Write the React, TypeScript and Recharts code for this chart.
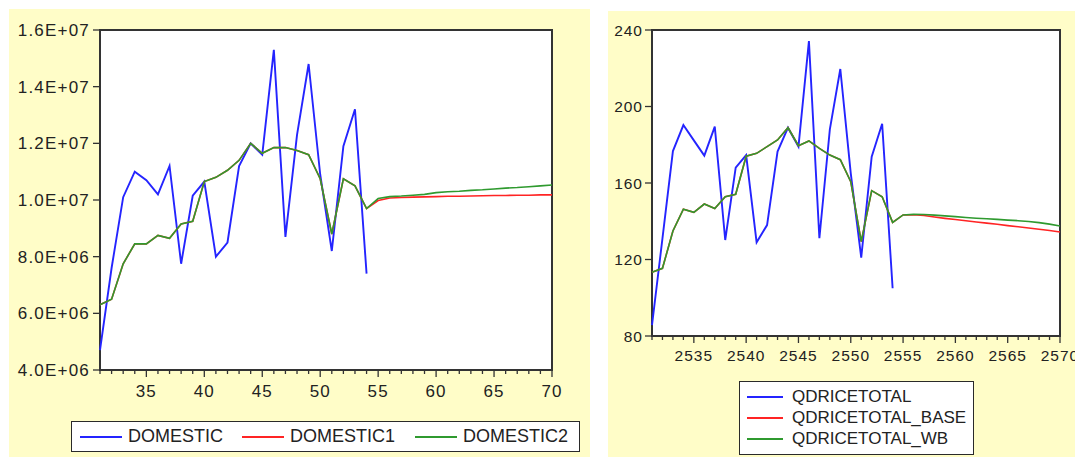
import React from 'react';
import { LineChart, Line, XAxis, YAxis, CartesianGrid, ReferenceArea, Legend } from 'recharts';

// ---------- Left chart data ----------
const leftYears = [31, 32, 33, 34, 35, 36, 37, 38, 39, 40, 41, 42, 43, 44, 45, 46, 47, 48, 49, 50, 51, 52, 53, 54, 55, 56, 57, 58, 59, 60, 61, 62, 63, 64, 65, 66, 67, 68, 69, 70];
const domestic = [4.7e6, 7.6e6, 10.1e6, 11.0e6, 10.7e6, 10.2e6, 11.2e6, 7.75e6, 10.15e6, 10.65e6, 8.0e6, 8.5e6, 11.2e6, 12.0e6, 11.6e6, 15.3e6, 8.7e6, 12.3e6, 14.8e6, 10.9e6, 8.2e6, 11.9e6, 13.2e6, 7.4e6];
const domestic1 = [6.3e6, 6.5e6, 7.75e6, 8.45e6, 8.45e6, 8.75e6, 8.65e6, 9.15e6, 9.25e6, 10.65e6, 10.8e6, 11.05e6, 11.4e6, 12.0e6, 11.65e6, 11.85e6, 11.85e6, 11.75e6, 11.6e6, 10.75e6, 8.8e6, 10.75e6, 10.5e6, 9.7e6,
  9.98e6, 10.07e6, 10.09e6, 10.1e6, 10.11e6, 10.12e6, 10.13e6, 10.13e6, 10.14e6, 10.15e6, 10.16e6, 10.16e6, 10.17e6, 10.17e6, 10.18e6, 10.18e6];
const domestic2 = [6.3e6, 6.5e6, 7.75e6, 8.45e6, 8.45e6, 8.75e6, 8.65e6, 9.15e6, 9.25e6, 10.65e6, 10.8e6, 11.05e6, 11.4e6, 12.0e6, 11.65e6, 11.85e6, 11.85e6, 11.75e6, 11.6e6, 10.75e6, 8.8e6, 10.75e6, 10.5e6, 9.7e6,
  10.05e6, 10.12e6, 10.14e6, 10.17e6, 10.2e6, 10.26e6, 10.29e6, 10.31e6, 10.34e6, 10.36e6, 10.39e6, 10.42e6, 10.44e6, 10.47e6, 10.5e6, 10.53e6];
const leftYTicks = [4e6, 6e6, 8e6, 10e6, 12e6, 14e6, 16e6];
const leftXLabels = [35, 40, 45, 50, 55, 60, 65, 70];
const leftNames = ['DOMESTIC', 'DOMESTIC1', 'DOMESTIC2'];

// ---------- Right chart data ----------
const rightYears = [2531, 2532, 2533, 2534, 2535, 2536, 2537, 2538, 2539, 2540, 2541, 2542, 2543, 2544, 2545, 2546, 2547, 2548, 2549, 2550, 2551, 2552, 2553, 2554, 2555, 2556, 2557, 2558, 2559, 2560, 2561, 2562, 2563, 2564, 2565, 2566, 2567, 2568, 2569, 2570];
const qdriceTotal = [85.7, 131, 176.7, 190.3, 182.3, 174.3, 189.5, 130.2, 168, 174.6, 129, 138, 176.4, 188.9, 179, 234.2, 131.1, 188, 219.6, 165, 121, 173.8, 191, 105];
const qdriceBase = [113.3, 115.4, 134.9, 146.3, 144.7, 149, 146.7, 152.8, 154.1, 174, 175.5, 179, 182.5, 188.9, 179.5, 182, 178.1, 174.6, 172.2, 160.7, 129.3, 156, 152.8, 139.4,
  143.3, 143.4, 143.0, 142.2, 141.5, 140.9, 140.3, 139.6, 139.0, 138.4, 137.7, 137.1, 136.5, 135.8, 135.2, 134.4];
const qdriceWb = [113.3, 115.4, 134.9, 146.3, 144.7, 149, 146.7, 152.8, 154.1, 174, 175.5, 179, 182.5, 188.9, 179.5, 182, 178.1, 174.6, 172.2, 160.7, 129.3, 156, 152.8, 139.4,
  143.3, 143.6, 143.5, 143.2, 142.8, 142.4, 142.0, 141.6, 141.3, 141.0, 140.6, 140.3, 139.9, 139.3, 138.5, 137.5];
const rightYTicks = [80, 120, 160, 200, 240];
const rightXLabels = [2535, 2540, 2545, 2550, 2555, 2560, 2565, 2570];
const rightNames = ['QDRICETOTAL', 'QDRICETOTAL_BASE', 'QDRICETOTAL_WB'];

const seriesColors = ['#2424ff', '#ff2424', '#2f9a2f'];

// ---------- Tables ----------
const leftData = leftYears.map((yr, i) => ({
  x: yr,
  a: i < domestic.length ? domestic[i] : null,
  b: domestic1[i],
  c: domestic2[i],
}));
const rightData = rightYears.map((yr, i) => ({
  x: yr,
  a: i < qdriceTotal.length ? qdriceTotal[i] : null,
  b: qdriceBase[i],
  c: qdriceWb[i],
}));

const FONT = '"Liberation Sans", Arial, sans-serif';
const PANEL = '#fffdc8';
const FRAME = '#333333';
const TEXT = '#222222';

const sciFormat = (v: number) => {
  const e = Math.floor(Math.log10(v) + 1e-9);
  const m = v / Math.pow(10, e);
  return m.toFixed(1) + 'E+' + String(e).padStart(2, '0');
};

const makeXTick = (labels: number[], fontSize: number, offset: number, ls: number) => (props: any) => {
  const { x, y, payload } = props;
  const v = payload.value;
  const major = labels.includes(v);
  return (
    <g>
      <line x1={x} x2={x} y1={y} y2={y + (major ? 7 : 4)} stroke={FRAME} strokeWidth={1.3} />
      {major && (
        <text x={x} y={y + offset} textAnchor="middle" fontSize={fontSize} fill={TEXT} fontFamily={FONT} letterSpacing={ls}>
          {v}
        </text>
      )}
    </g>
  );
};

const makeYTick = (fmt: (v: number) => string, fontSize: number, ls: number) => (props: any) => {
  const { x, y, payload } = props;
  return (
    <text x={x} y={y} dy="0.36em" textAnchor="end" fontSize={fontSize} fill={TEXT} fontFamily={FONT} letterSpacing={ls}>
      {fmt(payload.value)}
    </text>
  );
};

const LeftLegend = () => (
  <div style={{ position: 'relative', width: 509, height: 31, boxSizing: 'border-box', border: '1.5px solid #2a2a2a', background: '#fff', fontFamily: FONT, fontSize: 18, color: TEXT }}>
    {[
      { l: 8, t: 56 },
      { l: 170, t: 218 },
      { l: 343, t: 391 },
    ].map((p, i) => (
      <React.Fragment key={i}>
        <div style={{ position: 'absolute', left: p.l, top: 14, width: 42, height: 2, background: seriesColors[i] }} />
        <div style={{ position: 'absolute', left: p.t, top: 4, lineHeight: '20px', whiteSpace: 'nowrap' }}>{leftNames[i]}</div>
      </React.Fragment>
    ))}
  </div>
);

const RightLegend = () => (
  <div style={{ position: 'relative', width: 235, height: 74, boxSizing: 'border-box', border: '1.5px solid #2a2a2a', background: '#fff', fontFamily: FONT, fontSize: 17, color: TEXT }}>
    {rightNames.map((n, i) => (
      <React.Fragment key={i}>
        <div style={{ position: 'absolute', left: 7, top: 14 + i * 21, width: 36, height: 2, background: seriesColors[i] }} />
        <div style={{ position: 'absolute', left: 52, top: 5 + i * 21, lineHeight: '20px', whiteSpace: 'nowrap' }}>{n}</div>
      </React.Fragment>
    ))}
  </div>
);

export default function App() {
  return (
    <div style={{ position: 'absolute', left: 0, top: 0, width: 1075, height: 457, background: '#fff', overflow: 'hidden' }}>
      {/* Left panel */}
      <div style={{ position: 'absolute', left: 9, top: 9, width: 581, height: 448, background: PANEL }}>
        <LineChart width={581} height={448} data={leftData} margin={{ top: 21, right: 38, left: 0, bottom: 57 }}>
          <CartesianGrid horizontal={false} vertical={false} fill="#ffffff" stroke="none" />
          <XAxis
            dataKey="x"
            type="number"
            domain={[31, 70]}
            ticks={leftYears}
            interval={0}
            height={30}
            tickSize={0}
            tickMargin={0}
            tickLine={false}
            axisLine={false}
            tick={makeXTick(leftXLabels, 17, 27, 1.1)}
          />
          <YAxis
            type="number"
            domain={[4e6, 16e6]}
            ticks={leftYTicks}
            width={91}
            tickSize={7}
            tickMargin={3}
            axisLine={false}
            tickLine={{ stroke: FRAME, strokeWidth: 1.3 }}
            tick={makeYTick(sciFormat, 17, 1.2)}
            interval={0}
          />
          <Line dataKey="a" stroke={seriesColors[0]} strokeWidth={1.9} dot={false} isAnimationActive={false} />
          <Line dataKey="b" stroke={seriesColors[1]} strokeWidth={1.6} dot={false} isAnimationActive={false} />
          <Line dataKey="c" stroke={seriesColors[2]} strokeWidth={1.6} dot={false} isAnimationActive={false} />
          <ReferenceArea x1={31} x2={70} y1={4e6} y2={16e6} fill="none" stroke={FRAME} strokeWidth={2} />
          <Legend
            layout="vertical"
            align="center"
            verticalAlign="middle"
            wrapperStyle={{ position: 'absolute', left: 62, top: 412, width: 509, height: 31 }}
            content={() => <LeftLegend />}
          />
        </LineChart>
      </div>

      {/* Right panel */}
      <div style={{ position: 'absolute', left: 608, top: 11, width: 467, height: 446, background: PANEL }}>
        <LineChart width={467} height={446} data={rightData} margin={{ top: 19, right: 15, left: 0, bottom: 91 }}>
          <CartesianGrid horizontal={false} vertical={false} fill="#ffffff" stroke="none" />
          <XAxis
            dataKey="x"
            type="number"
            domain={[2531, 2570]}
            ticks={rightYears}
            interval={0}
            height={30}
            tickSize={0}
            tickMargin={0}
            tickLine={false}
            axisLine={false}
            tick={makeXTick(rightXLabels, 15.5, 25, 1)}
          />
          <YAxis
            type="number"
            domain={[80, 240]}
            ticks={rightYTicks}
            width={44}
            tickSize={7}
            tickMargin={2}
            axisLine={false}
            tickLine={{ stroke: FRAME, strokeWidth: 1.3 }}
            tick={makeYTick((v) => String(v), 15.5, 1)}
            interval={0}
          />
          <Line dataKey="a" stroke={seriesColors[0]} strokeWidth={1.9} dot={false} isAnimationActive={false} />
          <Line dataKey="b" stroke={seriesColors[1]} strokeWidth={1.6} dot={false} isAnimationActive={false} />
          <Line dataKey="c" stroke={seriesColors[2]} strokeWidth={1.6} dot={false} isAnimationActive={false} />
          <ReferenceArea x1={2531} x2={2570} y1={80} y2={240} fill="none" stroke={FRAME} strokeWidth={2} />
          <Legend
            layout="vertical"
            align="center"
            verticalAlign="middle"
            wrapperStyle={{ position: 'absolute', left: 131, top: 370, width: 235, height: 74 }}
            content={() => <RightLegend />}
          />
        </LineChart>
      </div>
    </div>
  );
}
